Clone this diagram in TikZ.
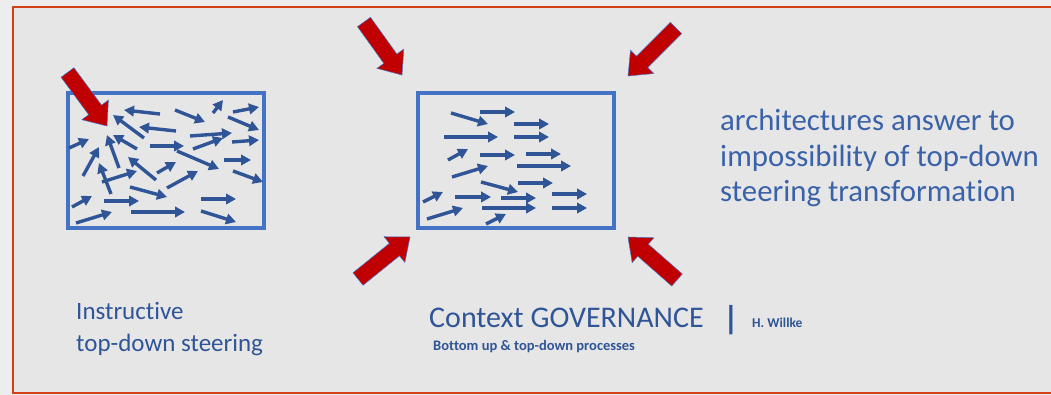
\documentclass[tikz,border=0pt]{standalone}
\usepackage{fontspec}
\setmainfont{Carlito}[Ligatures={NoCommon,NoContextual}]
\usetikzlibrary{calc,arrows.meta}
\definecolor{outerbg}{HTML}{EDEDED}
\definecolor{innerbg}{HTML}{E6E6E6}
\definecolor{framered}{HTML}{D2401A}
\definecolor{boxblue}{HTML}{4472C4}
\definecolor{arrowblue}{HTML}{2F5597}
\definecolor{textblue}{HTML}{2F5597}
\definecolor{lighttext}{HTML}{3A62A8}
\definecolor{bigred}{HTML}{C00000}
\tikzset{
  framebox/.style={draw=framered, line width=2pt},
  fieldbox/.style={draw=boxblue, line width=3.5pt, minimum width=196pt, minimum height=135pt, inner sep=0pt},
  smallarrow/.style={draw=arrowblue, line width=3.4pt, -{Triangle[length=10pt 0 0, width=10.5pt 0 0]}},
  redarrow/.style={fill=bigred, draw=boxblue, line width=0.5pt, line join=miter},
  lbl/.style={text=textblue, inner sep=0pt, anchor=base west},
}
\newcommand\bigarrow[2]{%
  \coordinate (hb) at ($(#2)!20pt!(#1)$);
  \filldraw[redarrow] ($(#1)!8pt!90:(#2)$) -- ($(hb)!8pt!90:(#2)$) -- ($(hb)!16.5pt!90:(#2)$) -- (#2)
     -- ($(hb)!16.5pt!-90:(#2)$) -- ($(hb)!8pt!-90:(#2)$) -- ($(#1)!8pt!-90:(#2)$) -- cycle;}
\begin{document}
\begin{tikzpicture}[x=1pt,y=-1pt]
\path[use as bounding box, fill=outerbg] (0,0) rectangle (1051,395);
\fill[innerbg] (13,7) rectangle (1055,393);
\draw[framebox] (1055,7) -- (13,7) -- (13,393) -- (1055,393);

% left box
\node[fieldbox] (leftbox) at (166,160.5) {};
\foreach \ax/\ay/\bx/\by in {
 160/114/124/110, 175/110/205/122, 213/113/223/100, 233/112/259/107, 228/117/259/130,
 144/138/113/115, 176/131/139/127, 190/136/232/133, 193/149/223/138, 232/142/259/140,
 137/149/113/135, 150/146/184/146, 177/151/219/169, 224/160/251/160, 233/171/263/182,
 69/148/89/139, 83/176/99/147, 119/168/107/135, 156/180/128/157, 157/173/176/162,
 111/194/99/163, 102/182/137/171, 167/188/198/171, 130/187/167/197, 72/207/92/196,
 104/201/139/201, 201/199/236/199, 76/223/112/212, 131/212/185/212, 201/211/236/222}
 { \draw[smallarrow] (\ax,\ay) -- (\bx,\by); }

% middle box
\node[fieldbox] (midbox) at (516,160.5) {};
\foreach \ax/\ay/\bx/\by in {
 451/113/488/124, 480/112/515/112, 514/124/549/124, 444/137/498/137, 514/137/549/137,
 448/160/468/149, 480/155/515/155, 526/154/561/154, 452/177/488/166, 517/166/571/166,
 481/182/518/192, 518/183/553/183, 423/202/443/192, 455/197/491/197, 501/198/536/198,
 552/194/587/194, 427/219/463/208, 482/208/536/208, 552/208/587/208, 486/224/506/214}
 { \draw[smallarrow] (\ax,\ay) -- (\bx,\by); }

% red arrows
\coordinate (lt) at (67.5,72.5);  \coordinate (lh) at (107,126);
\coordinate (at) at (364,22);     \coordinate (ah) at (402,75);
\coordinate (bt) at (676,28);     \coordinate (bh) at (628,76);
\coordinate (ct) at (358,279);    \coordinate (ch) at (410,237);
\coordinate (dt) at (677,280);    \coordinate (dh) at (628,237);
\bigarrow{lt}{lh}
\bigarrow{at}{ah}
\bigarrow{bt}{bh}
\bigarrow{ct}{ch}
\bigarrow{dt}{dh}

% texts
\node[lbl, font=\fontsize{25}{30}\selectfont] (ins1) at (76,319) {Instructive};
\node[lbl, font=\fontsize{25}{30}\selectfont] (ins2) at (76,351) {top-down steering};
\node[lbl, text=lighttext, font=\fontsize{30.8}{36}\selectfont] (arc1) at (720,131) {architectures answer to};
\node[lbl, text=lighttext, font=\fontsize{30.8}{36}\selectfont] (arc2) at (720,166.5) {impossibility of top-down};
\node[lbl, text=lighttext, font=\fontsize{30.8}{36}\selectfont] (arc3) at (720,202) {steering transformation};
\node[lbl, font=\fontsize{30}{36}\selectfont] (ctx) at (429,327) {Context GOVERNANCE};
\node[text=textblue, inner sep=0pt, font=\fontsize{33}{36}\selectfont\bfseries] (bar) at (731,320) {|};
\node[lbl, font=\fontsize{13.5}{16}\selectfont\bfseries] (auth) at (752,327) {H. Willke};
\node[lbl, font=\fontsize{14.5}{17}\selectfont\bfseries] (sub) at (433,350) {Bottom up \& top-down processes};
\end{tikzpicture}
\end{document}
